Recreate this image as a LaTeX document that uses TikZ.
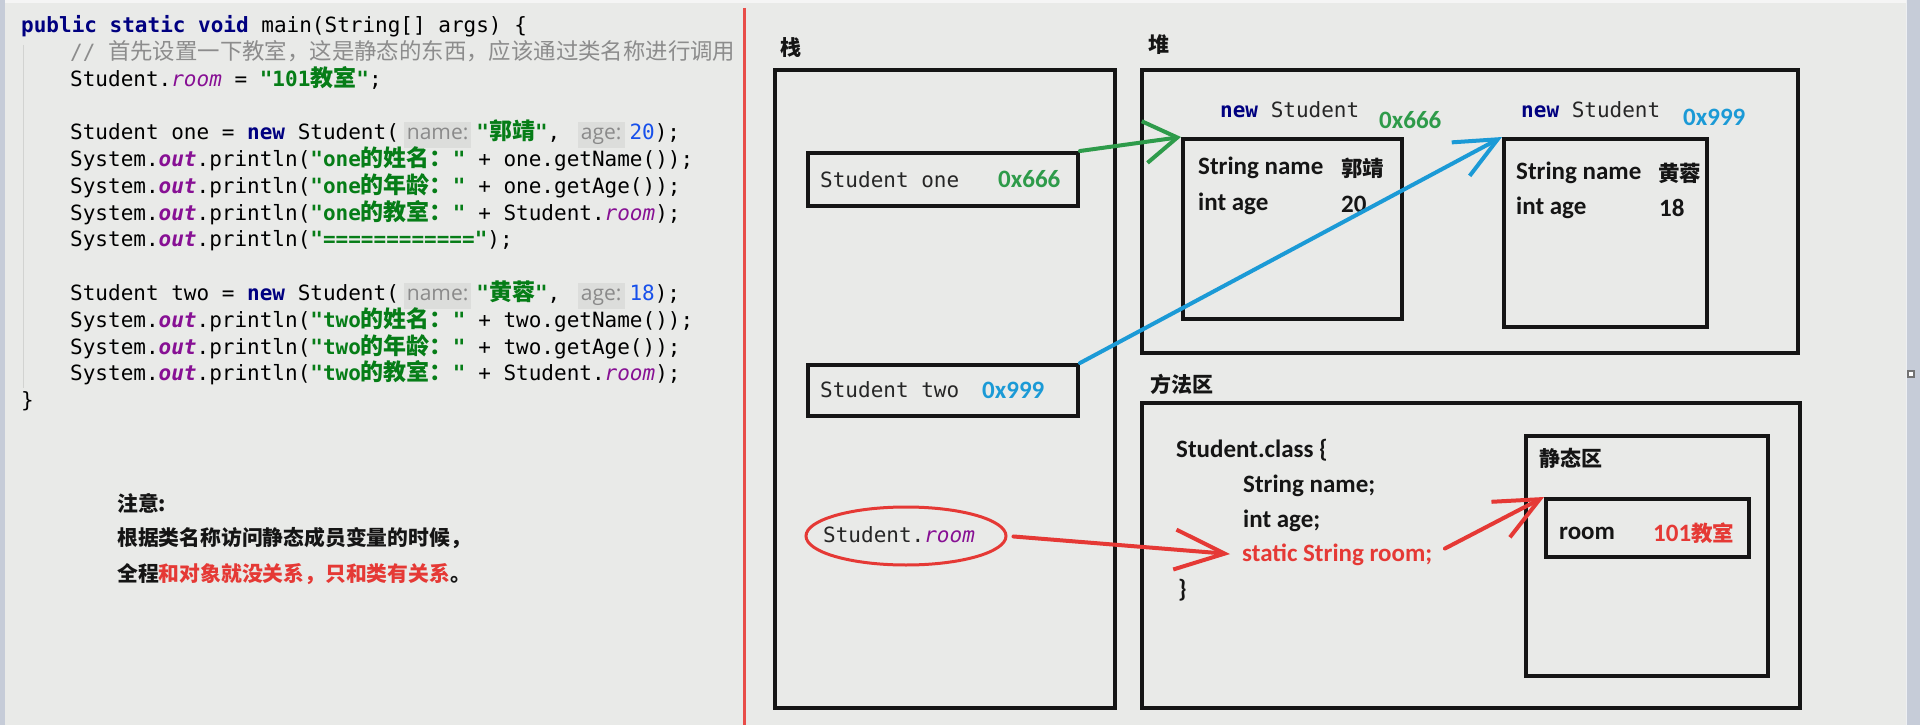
\documentclass[tikz,border=0pt]{standalone}
\usepackage{fontspec}
\setmonofont{DejaVu Sans Mono}
\newfontfamily\cjk{Noto Sans CJK SC}
\newfontfamily\calib{Carlito}
\newfontfamily\hintfont{Open Sans}
\usepackage{xcolor}
\usetikzlibrary{positioning, arrows.meta, shapes.geometric}

\definecolor{bggrey}{HTML}{E9EAE8}
\definecolor{edgegrey}{HTML}{C6CCD8}
\definecolor{guide}{HTML}{D2D3D1}
\definecolor{kwnavy}{HTML}{000080}
\definecolor{strgreen}{HTML}{067D17}
\definecolor{fldpurple}{HTML}{871094}
\definecolor{numblue}{HTML}{1750EB}
\definecolor{cmtgrey}{HTML}{8C8C8C}
\definecolor{hintbg}{HTML}{DCDDDB}
\definecolor{hintgrey}{HTML}{8A8A8A}
\definecolor{penred}{HTML}{E53935}
\definecolor{pengreen}{HTML}{2E9B4A}
\definecolor{penblue}{HTML}{1B9AD6}
\definecolor{inkblack}{HTML}{151515}

% code colouring
\newcommand\zh[1]{{\cjk\fontsize{23}{23}\selectfont #1}}
\newcommand\zhc[1]{{\cjk\fontsize{22.4}{22.4}\selectfont #1}}
\newcommand\zhd[1]{{\cjk\fontsize{21.5}{21.5}\selectfont #1}}
\newcommand\kw[1]{\textcolor{kwnavy}{\bfseries #1}}
\newcommand\strg[1]{\textcolor{strgreen}{\bfseries #1}}
\newcommand\fld[1]{\textcolor{fldpurple}{\itshape #1}}
\newcommand\outf[1]{\textcolor{fldpurple}{\bfseries\itshape #1}}
\newcommand\numv[1]{\textcolor{numblue}{#1}}
\newcommand\hint[1]{\hspace{5pt}{\setlength\fboxsep{3pt}\colorbox{hintbg}{\hintfont\fontsize{21}{21}\selectfont\textcolor{hintgrey}{\rule[-5pt]{0pt}{20pt}#1}}}\hspace{5pt}}

\tikzset{
  codeline/.style={anchor=west, inner sep=0pt, text height=16pt, text depth=5pt, font=\ttfamily\fontsize{21}{21}\selectfont},
  memlbl/.style={anchor=west, inner sep=0pt, text=inkblack, font=\cjk\bfseries\fontsize{21}{21}\selectfont},
  mono/.style={anchor=west, inner sep=0pt, text=black!85, font=\ttfamily\fontsize{21}{21}\selectfont},
  field/.style={anchor=west, inner sep=0pt, text=inkblack, font=\calib\bfseries\fontsize{25}{25}\selectfont},
  membox/.style n args={2}{draw=inkblack, line width=4pt, minimum width=#1, minimum height=#2, inner sep=0pt},
  pen/.style={line width=4pt, line cap=round, line join=round},
  note/.style={anchor=west, inner sep=0pt, text=inkblack, font=\cjk\bfseries\fontsize{20.8}{20.8}\selectfont}
}

\begin{document}
\begin{tikzpicture}[x=1pt, y=-1pt]
    % Background and window edges
    \fill[bggrey] (0,0) rectangle (1920,725);
    \useasboundingbox (0,0) rectangle (1920,725);
    \fill[black!4] (0,0) rectangle (1920,3);
    \fill[edgegrey] (0,0) rectangle (5,725);
    \fill[edgegrey] (1907,0) rectangle (1920,725);
    \draw[white!70!edgegrey, line width=1pt] (1906,0) -- (1906,725);
    \draw[black!55, fill=white, line width=1.5pt] (1908,371) rectangle (1914,377);

    % Code
    \draw[guide, line width=1pt] (23,45) -- (23,388);
    \node[codeline] (c0) at (21,27) {\kw{public static void} main(String[] args) \{};
    \node[codeline, text=cmtgrey] (c1) at (70,53.8) {// \zhc{首先设置一下教室，这是静态的东西，应该通过类名称进行调用}};
    \node[codeline] (c2) at (70,80.6) {Student.\fld{room} = \strg{"101\zh{教室}"};};
    \node[codeline] (c4) at (70,134.2) {Student one = \kw{new} Student(\hint{name:}\strg{"\zh{郭靖}"}, \hint{age:}\numv{20});};
    \node[codeline] (c5) at (70,161) {System.\outf{out}.println(\strg{"one\zh{的姓名：}"} + one.getName());};
    \node[codeline] (c6) at (70,187.8) {System.\outf{out}.println(\strg{"one\zh{的年龄：}"} + one.getAge());};
    \node[codeline] (c7) at (70,214.6) {System.\outf{out}.println(\strg{"one\zh{的教室：}"} + Student.\fld{room});};
    \node[codeline] (c8) at (70,241.4) {System.\outf{out}.println(\strg{"============"});};
    \node[codeline] (c10) at (70,295) {Student two = \kw{new} Student(\hint{name:}\strg{"\zh{黄蓉}"}, \hint{age:}\numv{18});};
    \node[codeline] (c11) at (70,321.8) {System.\outf{out}.println(\strg{"two\zh{的姓名：}"} + two.getName());};
    \node[codeline] (c12) at (70,348.6) {System.\outf{out}.println(\strg{"two\zh{的年龄：}"} + two.getAge());};
    \node[codeline] (c13) at (70,375.4) {System.\outf{out}.println(\strg{"two\zh{的教室：}"} + Student.\fld{room});};
    \node[codeline] (c14) at (21,402.2) {\}};

    % Note
    \node[note] (n1) at (117,503) {注意:};
    \node[note] (n2) at (117,538) {根据类名称访问静态成员变量的时候，};
    \node[note] (n3) at (117,574) {全程\textcolor{penred}{和对象就没关系，只和类有关系}。};

    % Divider
    \draw[penred!90!white, line width=3pt] (744,8) -- (744,725);

    % Stack
    \node[memlbl] (stacklbl) at (780,48) {栈};
    \node[membox={340pt}{638pt}] (stack) at (945,389) {};
    \node[membox={270pt}{53pt}] (one) at (943,179.5) {};
    \node[mono] (onetxt) at (820,180) {Student one};
    \node[field, text=pengreen] (oneaddr) at (998,179) {0x666};
    \node[membox={270pt}{51pt}] (two) at (943,390.5) {};
    \node[mono] (twotxt) at (820,390) {Student two};
    \node[field, text=penblue] (twoaddr) at (982,390) {0x999};
    \node[draw=penred, line width=3pt, ellipse, minimum width=200pt, minimum height=58pt, inner sep=0pt] (roomvar) at (906,536) {};
    \node[mono] (roomtxt) at (823,535) {Student.\fld{room}};

    % Heap
    \node[memlbl] (heaplbl) at (1148,45) {堆};
    \node[membox={656pt}{283pt}] (heap) at (1470,211.5) {};
    \node[mono] (new1) at (1220,110) {\kw{new} Student};
    \node[field, text=pengreen] (addr1) at (1379,120) {0x666};
    \node[membox={219pt}{180pt}] (obj1) at (1292.5,229) {};
    \node[field] (name1) at (1198,168) {String name};
    \node[field] (nval1) at (1341,168) {\zhd{郭靖}};
    \node[field] (age1) at (1198,204) {int age};
    \node[field] (aval1) at (1341,204) {20};
    \node[mono] (new2) at (1521,110) {\kw{new} Student};
    \node[field, text=penblue] (addr2) at (1683,117) {0x999};
    \node[membox={203pt}{188pt}] (obj2) at (1605.5,233) {};
    \node[field] (name2) at (1516,173) {String name};
    \node[field] (nval2) at (1658,173) {\zhd{黄蓉}};
    \node[field] (age2) at (1516,208) {int age};
    \node[field] (aval2) at (1659,208) {18};

    % Method area
    \node[memlbl] (methodlbl) at (1150,384) {方法区};
    \node[membox={658pt}{305pt}] (method) at (1471,555.5) {};
    \node[field] (cls1) at (1176,450) {Student.class \{};
    \node[field] (cls2) at (1243,486) {String name;};
    \node[field] (cls3) at (1243,521) {int age;};
    \node[field, text=penred] (sfield) at (1242,555) {static String room;};
    \node[field] (cls5) at (1178,590) {\}};
    \node[membox={242pt}{240pt}] (staticarea) at (1647,556) {};
    \node[memlbl] (staticlbl) at (1539,458) {静态区};
    \node[membox={203pt}{58pt}] (roombox) at (1647.5,528) {};
    \node[field] (roomname) at (1559,533) {room};
    \node[field, text=penred] (roomval) at (1653,533) {101\zhd{教室}};

    % Pointers
    \draw[pen, pengreen, -{Straight Barb[length=33pt, width=42pt]}] (one.north east) -- (obj1.north west);
    \draw[pen, penblue, -{Straight Barb[length=42pt, width=38pt]}] (two.north east) -- (obj2.north west);
    \draw[pen, penred, shorten <=6pt, shorten >=12pt, -{Straight Barb[length=50pt, width=40pt]}] (roomvar.east) -- (sfield.west);
    \draw[pen, penred, shorten <=14pt, -{Straight Barb[length=44pt, width=40pt]}] (sfield.east) -- (roombox.north west);
\end{tikzpicture}
\end{document}
